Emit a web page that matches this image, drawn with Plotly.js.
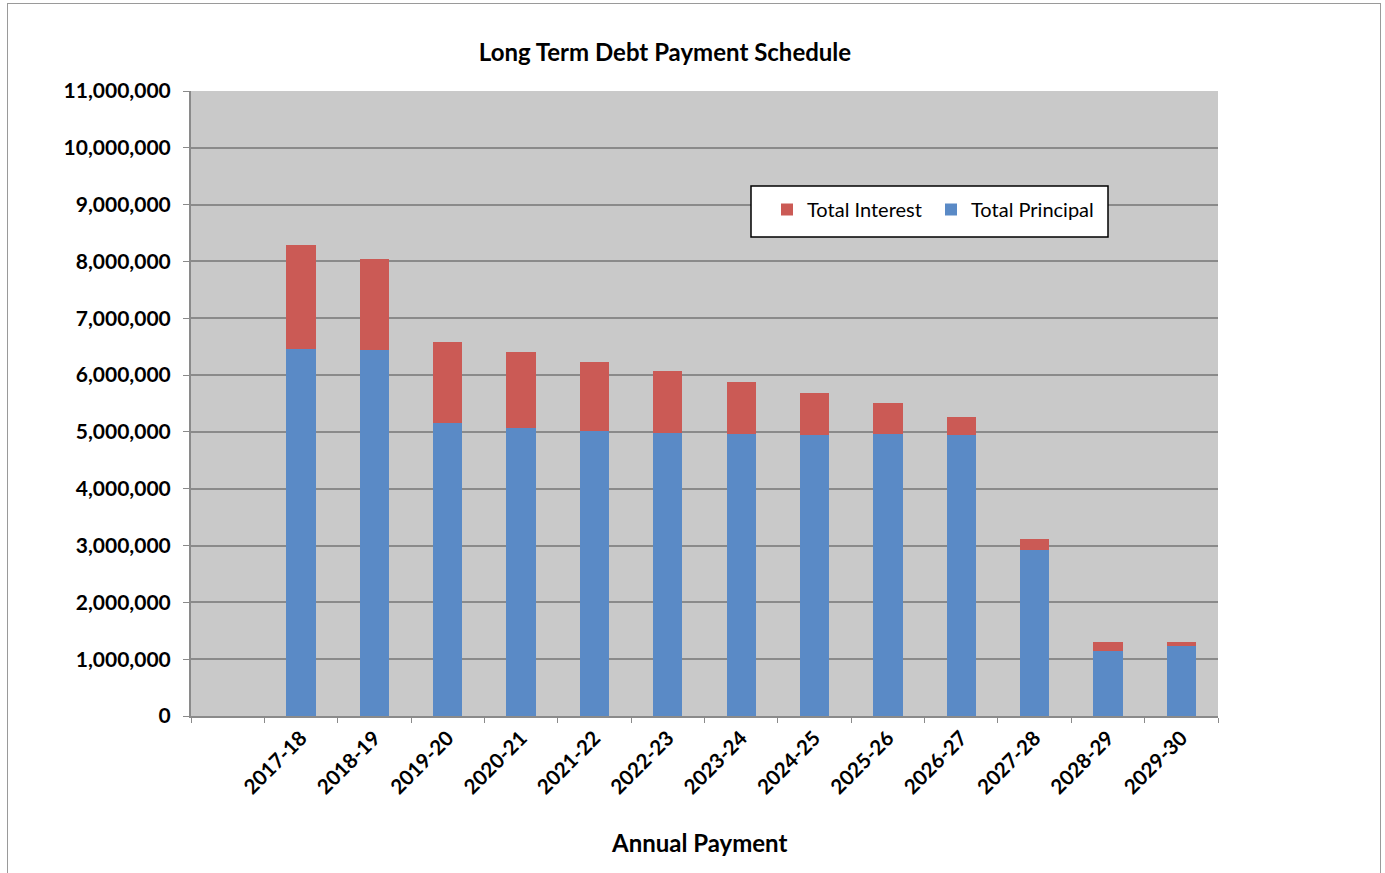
<!DOCTYPE html>
<html>
<head>
<meta charset="utf-8">
<script src="https://cdn.plot.ly/plotly-3.0.1.min.js"></script>
<style>
  html, body { margin: 0; padding: 0; background: #fff; }
  #chart { width: 1385px; height: 873px; }
  #frame { position: absolute; left: 7px; top: 3px; width: 1372px; height: 880px; border: 1px solid #9a9a9a; pointer-events: none; }
</style>
</head>
<body>
<div id="chart"></div>
<div id="frame"></div>
<script>
const categories = [" ", "2017-18", "2018-19", "2019-20", "2020-21", "2021-22", "2022-23", "2023-24", "2024-25", "2025-26", "2026-27", "2027-28", "2028-29", "2029-30"];
const totalPrincipal = [null, 6460000, 6450000, 5160000, 5070000, 5020000, 4975000, 4960000, 4950000, 4970000, 4950000, 2930000, 1150000, 1240000];
const totalInterest  = [null, 1830000, 1590000, 1430000, 1340000, 1210000, 1095000, 920000, 730000, 540000, 320000, 185000, 150000, 60000];

const fontFam = "Lato, 'Open Sans', sans-serif";
const PL = 191, PR = 1218, PT = 91, PB = 716;
const px = v => (v - PL) / (PR - PL);
const py = v => (PB - v) / (PB - PT);

const traces = [
  { type: "bar", name: "Total Principal", x: categories, y: totalPrincipal,
    marker: { color: "#5a8ac6" }, hoverinfo: "x+y+name" },
  { type: "bar", name: "Total Interest", x: categories, y: totalInterest,
    marker: { color: "#cb5a55" }, hoverinfo: "x+y+name" }
];

const layout = {
  width: 1385, height: 873,
  margin: { l: PL, r: 1385 - PR, t: PT, b: 873 - PB },
  paper_bgcolor: "#ffffff",
  plot_bgcolor: "#c9c9c9",
  barmode: "stack",
  bargap: 0.6,
  font: { family: fontFam, color: "#000" },
  showlegend: true,
  title: { text: "<b>Long Term Debt Payment Schedule</b>", font: { size: 24, family: fontFam, color: "#000" },
           xref: "container", yref: "container", x: 665 / 1385, y: 1 - 53 / 873, xanchor: "center", yanchor: "middle" },
  xaxis: {
    type: "category", categoryorder: "array", categoryarray: categories,
    tickson: "boundaries", ticks: "outside", ticklen: 5, tickcolor: "#8a8a8a", tickwidth: 1,
    showline: true, linecolor: "#8a8a8a", linewidth: 2, showgrid: false,
    tickangle: -45, tickfont: { size: 20.5, family: fontFam, color: "#000", weight: "bold" },
    range: [-0.5, 13.5], fixedrange: true
  },
  yaxis: {
    range: [0, 11000000], dtick: 1000000, tickformat: ",d",
    ticks: "outside", ticklen: 6, tickcolor: "#8a8a8a", tickwidth: 1,
    showline: true, linecolor: "#8a8a8a", linewidth: 2,
    showgrid: true, gridcolor: "#8a8a8a", gridwidth: 2, zeroline: false,
    tickfont: { size: 21, family: fontFam, color: "#000", weight: "bold" },
    ticklabelstandoff: 8, fixedrange: true
  },
  legend: {
    orientation: "h", x: px(767), y: py(190), xanchor: "left", yanchor: "top",
    bgcolor: "rgba(0,0,0,0)", borderwidth: 0,
    traceorder: "reversed", font: { size: 20, family: fontFam, color: "#000" },
    entrywidth: 119, itemwidth: 30
  },
  shapes: [
    { type: "rect", xref: "paper", yref: "paper", x0: px(751), x1: px(1108), y0: py(237), y1: py(186),
      fillcolor: "#ffffff", line: { color: "#000000", width: 1.5 }, layer: "above" }
  ],
  annotations: [
    { text: "<b>Annual Payment</b>", xref: "paper", yref: "paper", x: px(699), y: py(842),
      xanchor: "center", yanchor: "middle", showarrow: false, font: { size: 24, family: fontFam, color: "#000" } }
  ]
};

Plotly.newPlot("chart", traces, layout, { displayModeBar: false });
</script>
</body>
</html>
